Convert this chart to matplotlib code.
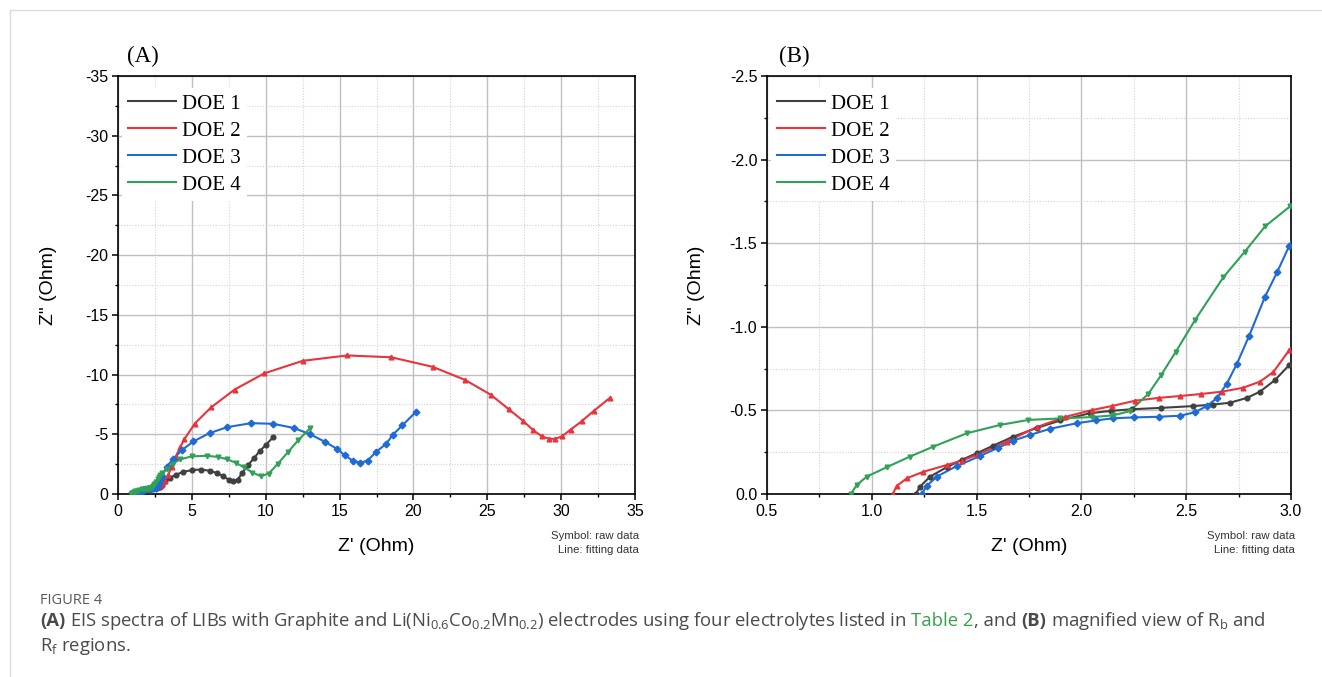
import matplotlib
matplotlib.use("Agg")
import matplotlib.pyplot as plt
from matplotlib.ticker import MultipleLocator, FormatStrFormatter
from matplotlib.lines import Line2D

plt.rcParams['axes.unicode_minus'] = False
plt.rcParams['font.family'] = ['Liberation Sans', 'DejaVu Sans']
plt.rcParams['mathtext.fontset'] = 'custom'
plt.rcParams['mathtext.rm'] = 'Open Sans'
plt.rcParams['mathtext.it'] = 'Open Sans:italic'
plt.rcParams['mathtext.bf'] = 'Open Sans:bold'

# Z' and -Z'' (Ohm)
labels = ['DOE 1', 'DOE 2', 'DOE 3', 'DOE 4']
colors = ['#404040', '#e8343a', '#1e6bd6', '#2fa257']
markers = ['o', '^', 'D', 'v']

doe1_x = [1.21, 1.23, 1.278, 1.357, 1.43, 1.5, 1.58, 1.675, 1.787, 1.9, 2.04, 2.14, 2.24, 2.38,
          2.534, 2.63, 2.709, 2.79, 2.852, 2.924, 2.992,
          3.2, 3.5, 3.9, 4.4, 5.0, 5.6, 6.2, 6.7, 7.1, 7.5, 7.8, 8.1, 8.4, 8.8, 9.2, 9.6, 10.0, 10.5]
doe1_y = [0.0, 0.044, 0.104, 0.16, 0.205, 0.243, 0.29, 0.343, 0.395, 0.44, 0.483, 0.497, 0.507, 0.515,
          0.526, 0.535, 0.546, 0.575, 0.612, 0.682, 0.772,
          1.05, 1.35, 1.6, 1.85, 2.0, 2.05, 1.95, 1.75, 1.5, 1.2, 1.05, 1.2, 1.75, 2.4, 3.0, 3.6, 4.1, 4.75]

doe2_x = [1.10, 1.119, 1.167, 1.246, 1.357, 1.43, 1.5, 1.644, 1.787, 1.92, 2.05, 2.145, 2.256, 2.37,
          2.47, 2.57, 2.67, 2.77, 2.852, 2.916, 2.992,
          3.2, 3.4, 3.65, 3.9, 4.2, 4.5, 5.2, 6.3, 7.9, 9.9, 12.5, 15.5, 18.5, 21.3, 23.5, 25.25,
          26.45, 27.4, 28.1, 28.7, 29.2, 29.6, 30.05, 30.65, 31.4, 32.2, 33.3]
doe2_y = [0.0, 0.048, 0.094, 0.133, 0.173, 0.20, 0.233, 0.313, 0.40, 0.46, 0.502, 0.526, 0.558, 0.575,
          0.586, 0.598, 0.612, 0.635, 0.672, 0.73, 0.861,
          1.1, 1.6, 2.3, 3.1, 3.9, 4.6, 5.9, 7.25, 8.75, 10.1, 11.15, 11.6, 11.45, 10.65, 9.55, 8.3,
          7.1, 6.15, 5.35, 4.82, 4.62, 4.62, 4.82, 5.4, 6.1, 6.95, 8.05]

doe3_x = [1.238, 1.262, 1.31, 1.405, 1.516, 1.6, 1.675, 1.755, 1.85, 1.977, 2.07, 2.152, 2.25, 2.37,
          2.47, 2.542, 2.598, 2.645, 2.693, 2.741, 2.80, 2.876, 2.935, 2.992,
          3.3, 3.75, 4.3, 5.1, 6.2, 7.4, 9.0, 10.5, 11.9, 13.0, 14.0, 14.8, 15.35, 15.9, 16.4, 16.9,
          17.45, 18.15, 18.6, 19.25, 20.15]
doe3_y = [0.0, 0.048, 0.104, 0.167, 0.227, 0.275, 0.319, 0.353, 0.39, 0.423, 0.44, 0.453, 0.458, 0.462,
          0.468, 0.489, 0.526, 0.572, 0.658, 0.776, 0.945, 1.18, 1.33, 1.485,
          2.3, 2.95, 3.65, 4.4, 5.1, 5.6, 5.93, 5.88, 5.53, 5.0, 4.38, 3.8, 3.25, 2.78, 2.62, 2.8,
          3.5, 4.2, 4.95, 5.75, 6.85]

doe4_x = [0.9, 0.928, 0.976, 1.071, 1.18, 1.293, 1.453, 1.612, 1.747, 1.9, 2.05, 2.15, 2.232, 2.32,
          2.38, 2.45, 2.542, 2.677, 2.78, 2.876, 2.995,
          3.3, 3.7, 4.2, 5.0, 6.0, 6.8, 7.4, 8.0, 8.5, 9.1, 9.65, 10.2, 10.8, 11.5, 12.2, 13.0]
doe4_y = [0.0, 0.054, 0.104, 0.16, 0.223, 0.283, 0.363, 0.413, 0.443, 0.452, 0.46, 0.47, 0.496, 0.60,
          0.71, 0.85, 1.04, 1.296, 1.45, 1.60, 1.72,
          2.1, 2.55, 2.9, 3.15, 3.2, 3.1, 2.9, 2.6, 2.25, 1.8, 1.5, 1.7, 2.5, 3.5, 4.5, 5.5]

series = [(doe1_x, doe1_y), (doe2_x, doe2_y), (doe3_x, doe3_y), (doe4_x, doe4_y)]

W, H = 1322, 677
fig = plt.figure(figsize=(W / 100, H / 100), dpi=100)


def px_rect(x0, x1, y0, y1):
    return [x0 / W, 1 - y1 / H, (x1 - x0) / W, (y1 - y0) / H]


axA = fig.add_axes(px_rect(118, 635, 76, 494))
axB = fig.add_axes(px_rect(767, 1291, 76, 494))


def style(ax, xlim, ylim, xmaj, ymaj, fmt):
    ax.set_xlim(*xlim)
    ax.set_ylim(*ylim)
    ax.xaxis.set_major_locator(MultipleLocator(xmaj))
    ax.xaxis.set_minor_locator(MultipleLocator(xmaj / 2))
    ax.yaxis.set_major_locator(MultipleLocator(ymaj))
    ax.yaxis.set_minor_locator(MultipleLocator(ymaj / 2))
    ax.xaxis.set_major_formatter(FormatStrFormatter(fmt))
    ax.yaxis.set_major_formatter(FormatStrFormatter(fmt))
    ax.set_axisbelow(True)
    ax.grid(which='major', color='#c0c0c0', lw=1.0, ls='-')
    ax.grid(which='minor', color='#d2d2d2', lw=0.8, ls=(0, (1, 1.5)))
    ax.tick_params(which='major', direction='out', length=4, width=1.1, labelsize=11.5, pad=3)
    ax.tick_params(which='minor', direction='out', length=2.5, width=1.0)
    for s in ax.spines.values():
        s.set_linewidth(1.2)
    ax.set_xlabel("Z' (Ohm)", fontsize=14)
    ax.set_ylabel('Z" (Ohm)', fontsize=14)
    ax.xaxis.set_label_coords(0.5, -0.106)
    ax.yaxis.set_label_coords(-0.118, 0.5)


style(axA, (0, 35), (0, -35), 5, 5, '%d')
style(axB, (0.5, 3.0), (0, -2.5), 0.5, 0.5, '%.1f')

for ax in (axA, axB):
    handles = []
    for (xs, ys), lab, c, m in zip(series, labels, colors, markers):
        neg = [-v for v in ys]
        ln, = ax.plot(xs, neg, color=c, lw=1.5, label=lab, zorder=3)
        ax.plot(xs, neg, ls='none', marker=m, ms=3.4, color=c, zorder=4, clip_on=True)
        handles.append(ln)
    ax.legend(handles=handles, loc='upper left', bbox_to_anchor=(0.008, 0.972),
              borderaxespad=0, borderpad=0.3, frameon=True, fancybox=False,
              edgecolor='none', facecolor='white', framealpha=1,
              prop={'family': 'Liberation Serif', 'size': 15},
              handlelength=2.3, handletextpad=0.29, labelspacing=0.36)
    ax.text(1.008, -0.1, 'Symbol: raw data', transform=ax.transAxes, ha='right', va='center',
            fontsize=8.2, color='#333333')
    ax.text(1.008, -0.135, 'Line: fitting data', transform=ax.transAxes, ha='right', va='center',
            fontsize=8.2, color='#333333')

fig.text(127 / W, 1 - 56 / H, '(A)', family='Liberation Serif', fontsize=16.5, va='center')
fig.text(779 / W, 1 - 56 / H, '(B)', family='Liberation Serif', fontsize=16.5, va='center')

# page frame lines
fig.add_artist(Line2D([10 / W, 10 / W], [0, 1 - 10 / H], transform=fig.transFigure, color='#dcdcdc', lw=1))
fig.add_artist(Line2D([10 / W, 1], [1 - 10 / H, 1 - 10 / H], transform=fig.transFigure, color='#dcdcdc', lw=1))

# caption
cap_color = '#4a4a4a'
cap_size = 13.3
fig.text(40 / W, 1 - 600 / H, 'FIGURE 4', family='Open Sans', fontsize=10.5, color='#5a5a5a', va='center')

renderer = fig.canvas.get_renderer()


def text_row(x_px, y_px, pieces):
    sp = fig.text(0, 0, 'a a', family='Open Sans', fontsize=cap_size)
    nsp = fig.text(0, 0, 'aa', family='Open Sans', fontsize=cap_size)
    space = sp.get_window_extent(renderer).width - nsp.get_window_extent(renderer).width
    sp.remove()
    nsp.remove()
    x = x_px
    for s, weight, col, gap in pieces:
        if gap:
            x += space
        t = fig.text(x / W, 1 - y_px / H, s, family='Open Sans', fontsize=cap_size,
                     weight=weight, color=col, va='baseline')
        x += t.get_window_extent(renderer).width


green = '#3aa04a'
text_row(40, 626, [
    ('(A)', 'bold', cap_color, False),
    (r'EIS spectra of LIBs with Graphite and Li(Ni$_{0.6}$Co$_{0.2}$Mn$_{0.2}$) electrodes using four electrolytes listed in',
     'normal', cap_color, True),
    ('Table 2', 'normal', green, True),
    (', and', 'normal', cap_color, False),
    ('(B)', 'bold', cap_color, True),
    (r'magnified view of R$_\mathrm{b}$ and', 'normal', cap_color, True),
])
text_row(40, 651, [(r'R$_\mathrm{f}$ regions.', 'normal', cap_color, False)])

fig.savefig('out.png', dpi=100)
